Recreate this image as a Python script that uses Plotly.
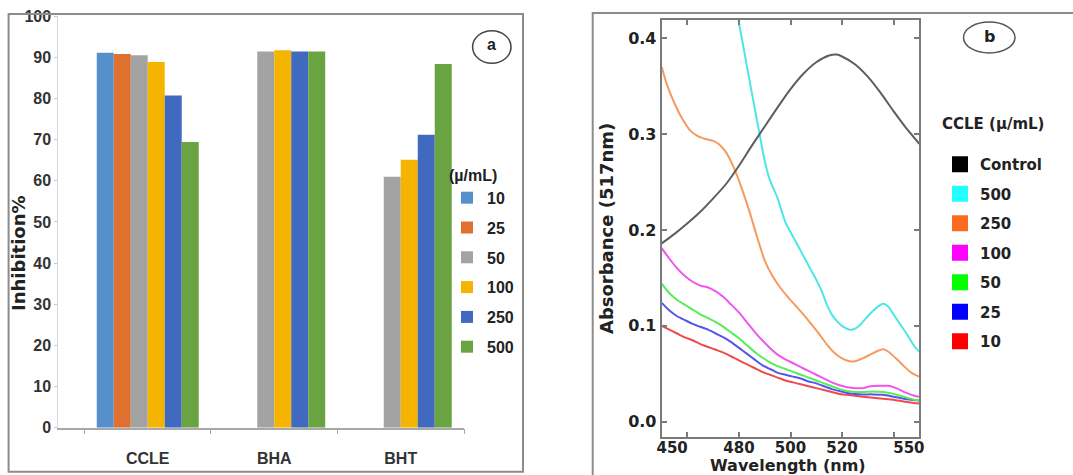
import plotly.graph_objects as go

W, H = 1073, 475

# ---------------- Panel a data ----------------
categories = ["CCLE", "BHA", "BHT"]
conc_labels = ["10", "25", "50", "100", "250", "500"]
inhib_10 = [91.1, None, None]
inhib_25 = [90.8, None, None]
inhib_50 = [90.5, 91.4, 61.0]
inhib_100 = [88.9, 91.7, 65.1]
inhib_250 = [80.7, 91.4, 71.2]
inhib_500 = [69.4, 91.4, 88.4]
bar_colors = ["#5590CC", "#E07030", "#A3A3A3", "#F5B400", "#4169BF", "#6AA442"]
y_ticks_a = [0, 10, 20, 30, 40, 50, 60, 70, 80, 90, 100]

# ---------------- Panel b data ----------------
wl_control = [450, 455, 460, 465, 470, 475, 480, 485, 490, 495, 500, 505, 510, 515, 518, 520, 525, 530, 535, 540, 545, 550]
abs_control = [0.186, 0.196, 0.207, 0.219, 0.233, 0.248, 0.267, 0.288, 0.308, 0.328, 0.347, 0.363, 0.375, 0.382, 0.383, 0.381, 0.373, 0.360, 0.343, 0.324, 0.306, 0.290]

wl_500 = [474, 477, 480, 483, 485, 488, 490, 492, 495, 498, 500, 503, 506, 508, 510, 512, 514, 516, 518, 520, 523, 525, 527, 530, 533, 536, 538, 540, 542, 545, 548, 550]
abs_500 = [0.500, 0.458, 0.416, 0.372, 0.343, 0.300, 0.272, 0.252, 0.233, 0.208, 0.198, 0.183, 0.168, 0.158, 0.148, 0.137, 0.123, 0.112, 0.105, 0.100, 0.096, 0.097, 0.101, 0.110, 0.118, 0.123, 0.120, 0.112, 0.104, 0.092, 0.079, 0.073]

wl_250 = [450, 452, 455, 458, 461, 464, 467, 470, 472, 475, 478, 481, 484, 487, 490, 493, 496, 499, 502, 505, 508, 511, 514, 517, 520, 523, 525, 528, 531, 534, 536, 538, 541, 544, 547, 550]
abs_250 = [0.370, 0.352, 0.332, 0.316, 0.304, 0.298, 0.295, 0.293, 0.290, 0.281, 0.265, 0.244, 0.220, 0.193, 0.168, 0.152, 0.140, 0.130, 0.121, 0.112, 0.102, 0.092, 0.081, 0.072, 0.066, 0.063, 0.063, 0.066, 0.070, 0.074, 0.0755, 0.073, 0.066, 0.058, 0.051, 0.047]

wl_100 = [450, 453, 456, 459, 462, 465, 468, 471, 474, 477, 480, 483, 486, 489, 492, 495, 498, 501, 504, 507, 510, 513, 516, 519, 522, 525, 528, 531, 535, 538, 541, 545, 548, 550]
abs_100 = [0.181, 0.170, 0.160, 0.152, 0.146, 0.142, 0.140, 0.136, 0.130, 0.122, 0.114, 0.104, 0.094, 0.085, 0.077, 0.070, 0.065, 0.061, 0.057, 0.053, 0.049, 0.045, 0.041, 0.038, 0.036, 0.035, 0.035, 0.037, 0.0375, 0.0375, 0.035, 0.030, 0.027, 0.026]

wl_50 = [450, 453, 456, 459, 462, 465, 468, 471, 474, 477, 480, 483, 486, 489, 492, 495, 498, 501, 504, 507, 510, 513, 516, 519, 522, 525, 528, 532, 536, 540, 544, 548, 550]
abs_50 = [0.144, 0.134, 0.127, 0.122, 0.117, 0.112, 0.108, 0.104, 0.099, 0.093, 0.087, 0.080, 0.073, 0.067, 0.062, 0.058, 0.055, 0.052, 0.049, 0.046, 0.043, 0.040, 0.037, 0.034, 0.032, 0.031, 0.031, 0.0315, 0.031, 0.029, 0.026, 0.023, 0.022]

wl_25 = [450, 453, 456, 459, 462, 465, 468, 471, 474, 477, 480, 483, 486, 489, 492, 495, 498, 501, 504, 507, 510, 513, 516, 519, 522, 525, 528, 532, 536, 540, 544, 548, 550]
abs_25 = [0.124, 0.116, 0.110, 0.106, 0.102, 0.099, 0.096, 0.092, 0.088, 0.083, 0.077, 0.071, 0.065, 0.059, 0.055, 0.051, 0.049, 0.047, 0.045, 0.042, 0.040, 0.037, 0.034, 0.032, 0.030, 0.029, 0.0285, 0.0285, 0.028, 0.026, 0.024, 0.0225, 0.022]

wl_10 = [450, 453, 456, 459, 462, 465, 468, 471, 474, 477, 480, 483, 486, 489, 492, 495, 498, 501, 504, 507, 510, 513, 516, 519, 522, 525, 528, 532, 536, 540, 544, 548, 550]
abs_10 = [0.100, 0.096, 0.092, 0.088, 0.085, 0.081, 0.078, 0.075, 0.072, 0.068, 0.064, 0.060, 0.056, 0.052, 0.049, 0.046, 0.043, 0.041, 0.039, 0.037, 0.035, 0.033, 0.031, 0.029, 0.028, 0.027, 0.026, 0.025, 0.024, 0.023, 0.021, 0.0195, 0.019]

series_names_b = ["Control", "500", "250", "100", "50", "25", "10"]
line_colors_b = ["#5E5E5E", "#4DE6E6", "#F59A60", "#F055F0", "#55EE55", "#5555EE", "#F04A4A"]
legend_colors_b = ["#000000", "#22FFFF", "#FF6A22", "#FF00FF", "#00FF00", "#0000FF", "#FF0000"]
x_tickvals_b = [450, 460, 480, 500, 520, 540, 550]
x_ticklabels_b = ["450", "", "480", "500", "520", "", "550"]
y_tickvals_b = [0.0, 0.1, 0.2, 0.3, 0.4]

# ---------------- Figure ----------------
def px_x(p):
    return p / W

def px_y(p):
    return 1 - p / H

fig = go.Figure()

inhib_all = [inhib_10, inhib_25, inhib_50, inhib_100, inhib_250, inhib_500]
for i, (name, vals) in enumerate(zip(conc_labels, inhib_all)):
    fig.add_trace(go.Bar(
        x=categories, y=vals, name=name,
        marker=dict(color=bar_colors[i], line=dict(width=0)),
        xaxis="x", yaxis="y", legend="legend", legendgroup="a" + name,
    ))

spectra = [
    (wl_control, abs_control), (wl_500, abs_500), (wl_250, abs_250),
    (wl_100, abs_100), (wl_50, abs_50), (wl_25, abs_25), (wl_10, abs_10),
]
# draw lower concentrations first so that upper curves sit on top
for i in reversed(range(len(spectra))):
    xs, ys = spectra[i]
    fig.add_trace(go.Scatter(
        x=xs, y=ys, mode="lines", name=series_names_b[i],
        line=dict(color=line_colors_b[i], width=2, shape="spline", smoothing=0.6),
        xaxis="x2", yaxis="y2", showlegend=False,
    ))
# legend swatches for panel b
for i, name in enumerate(series_names_b):
    fig.add_trace(go.Scatter(
        x=[None], y=[None], mode="markers", name=name,
        marker=dict(symbol="square", size=16, color=legend_colors_b[i]),
        xaxis="x2", yaxis="y2", legend="legend2", legendgroup="b" + name,
    ))

font_a = "Liberation Sans, Arial, sans-serif"
font_b = "DejaVu Sans, Verdana, sans-serif"

fig.update_layout(
    width=W, height=H,
    margin=dict(l=0, r=0, t=0, b=0, autoexpand=False),
    paper_bgcolor="white", plot_bgcolor="white",
    barmode="group", bargap=0.194, bargroupgap=0,
    xaxis=dict(
        domain=[px_x(58.3), px_x(464)], range=[-0.707, 2.5], anchor="y",
        type="category", tickson="boundaries", automargin=False,
        showline=True, linecolor="#A8A8A8", linewidth=1.5,
        ticks="outside", ticklen=5, tickcolor="#A8A8A8",
        showgrid=False, zeroline=False,
        tickfont=dict(family=font_a, size=16, color="#333333", weight="bold"),
        ticklabelstandoff=15,
    ),
    yaxis=dict(
        domain=[px_y(427.7), px_y(16.2)], range=[0, 100], anchor="x",
        tickvals=y_ticks_a, automargin=False,
        showline=True, linecolor="#D8D8D8", linewidth=1,
        ticks="outside", ticklen=3, tickcolor="#C8C8C8",
        showgrid=False, zeroline=False,
        tickfont=dict(family=font_a, size=16, color="#333333", weight="bold"),
    ),
    xaxis2=dict(
        domain=[px_x(661.7), px_x(919.3)], range=[450, 550], anchor="y2",
        tickvals=x_tickvals_b, automargin=False,
        ticktext=["\u00a0\u00a0\u00a0\u00a0" + x_ticklabels_b[0]] + x_ticklabels_b[1:-1]
                 + [x_ticklabels_b[-1] + "\u00a0\u00a0\u00a0\u00a0"],
        showline=True, linecolor="#7A7A7A", linewidth=2, mirror="ticks",
        ticks="inside", ticklen=5, tickcolor="#7A7A7A", tickwidth=1.5,
        showgrid=False, zeroline=False,
        tickfont=dict(family=font_b, size=15, color="#222222", weight="bold"),
    ),
    yaxis2=dict(
        domain=[px_y(436.7), px_y(20)], range=[-0.01565, 0.4191], anchor="x2",
        tickvals=y_tickvals_b, tickformat=".1f", automargin=False,
        showline=True, linecolor="#7A7A7A", linewidth=2, mirror="ticks",
        ticks="inside", ticklen=5, tickcolor="#7A7A7A", tickwidth=1.5,
        showgrid=False, zeroline=False,
        tickfont=dict(family=font_b, size=16, color="#222222", weight="bold"),
        title=dict(text="Absorbance (517nm)", standoff=10,
                   font=dict(family=font_b, size=18, color="#222222", weight="bold")),
    ),
    legend=dict(
        x=px_x(447), y=px_y(160), xanchor="left", yanchor="top",
        traceorder="grouped", tracegroupgap=6, bgcolor="rgba(0,0,0,0)",
        font=dict(family=font_a, size=16, color="#222222", weight="bold"),
        title=dict(text="(µ/mL)", font=dict(family=font_a, size=16, color="#222222", weight="bold")),
        itemclick=False,
    ),
    legend2=dict(
        x=px_x(940), y=px_y(109), xanchor="left", yanchor="top",
        traceorder="grouped", tracegroupgap=7, bgcolor="rgba(0,0,0,0)",
        font=dict(family=font_b, size=15, color="#222222", weight="bold"),
        title=dict(text="CCLE (µ/mL)<br> ", font=dict(family=font_b, size=15, color="#222222", weight="bold")),
        itemsizing="trace", itemclick=False,
    ),
    showlegend=True,
)

# pull the wavelength tick labels closer to the frame (as in the source)
try:
    fig.update_layout(xaxis2=dict(ticklabelstandoff=-4))
except ValueError:
    pass

# axis titles placed as in the source figure
fig.add_annotation(text="Inhibition%", xref="paper", yref="paper",
                   x=px_x(18), y=px_y(253), xanchor="center", yanchor="middle",
                   textangle=-90, showarrow=False,
                   font=dict(family=font_b, size=18, color="#222222", weight="bold"))
fig.add_annotation(text="Wavelength (nm)", xref="paper", yref="paper",
                   x=px_x(788), y=px_y(465), xanchor="center", yanchor="middle",
                   showarrow=False,
                   font=dict(family=font_b, size=16, color="#222222", weight="bold"))

# outer panel frames
fig.add_shape(type="rect", xref="paper", yref="paper",
              x0=px_x(8.6), x1=px_x(523), y0=px_y(471.7), y1=px_y(14),
              line=dict(color="#8C8C8C", width=2))
fig.add_shape(type="rect", xref="paper", yref="paper",
              x0=px_x(592.7), x1=px_x(1090), y0=px_y(495), y1=px_y(13),
              line=dict(color="#8C8C8C", width=2))

# panel labels in circles
fig.add_shape(type="circle", xref="paper", yref="paper",
              x0=px_x(472.6), x1=px_x(511), y0=px_y(63.3), y1=px_y(30.7),
              line=dict(color="#444444", width=1.5))
fig.add_annotation(text="a", xref="paper", yref="paper", x=px_x(491.5), y=px_y(45),
                   xanchor="center", yanchor="middle", showarrow=False,
                   font=dict(family=font_a, size=16, color="#222222", weight="bold"))
fig.add_shape(type="circle", xref="paper", yref="paper",
              x0=px_x(963.5), x1=px_x(1015), y0=px_y(53), y1=px_y(22),
              line=dict(color="#555555", width=1.5))
fig.add_annotation(text="b", xref="paper", yref="paper", x=px_x(989), y=px_y(37),
                   xanchor="center", yanchor="middle", showarrow=False,
                   font=dict(family=font_b, size=16, color="#222222", weight="bold"))

fig.write_html("out.html")
